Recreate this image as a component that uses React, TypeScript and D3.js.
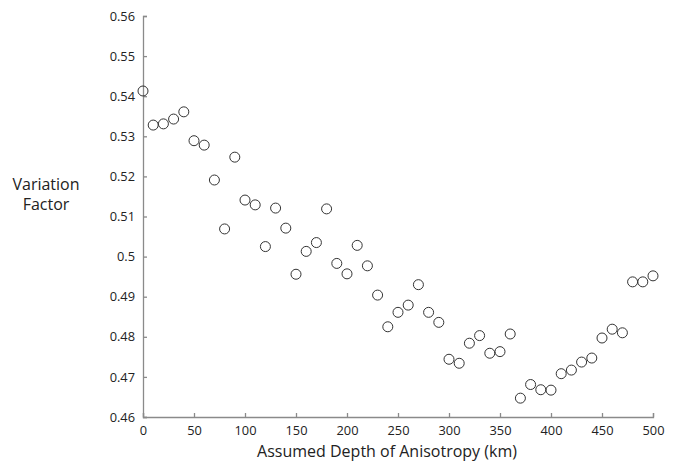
import React, { useEffect, useRef } from 'react';
import * as d3 from 'd3';

// Assumed depth (km) and variation factor
const depths = [
  0, 10, 20, 30, 40, 50, 60, 70, 80, 90, 100, 110, 120, 130, 140, 150, 160, 170, 180, 190,
  200, 210, 220, 230, 240, 250, 260, 270, 280, 290, 300, 310, 320, 330, 340, 350, 360, 370,
  380, 390, 400, 410, 420, 430, 440, 450, 460, 470, 480, 490, 500,
];
const factors = [
  0.5413, 0.5328, 0.5331, 0.5343, 0.5361, 0.5289, 0.5278, 0.5191, 0.5069, 0.5248,
  0.5141, 0.5129, 0.5025, 0.5121, 0.5071, 0.4956, 0.5013, 0.5035, 0.5119, 0.4983,
  0.4957, 0.5028, 0.4977, 0.4904, 0.4825, 0.4861, 0.4879, 0.493, 0.4861, 0.4836,
  0.4744, 0.4734, 0.4784, 0.4803, 0.4759, 0.4763, 0.4807, 0.4647, 0.4681, 0.4668,
  0.4667, 0.4708, 0.4717, 0.4737, 0.4747, 0.4797, 0.4819, 0.481, 0.4937, 0.4937, 0.4952,
];
const xTicks = [0, 50, 100, 150, 200, 250, 300, 350, 400, 450, 500];
const yTicks = [0.46, 0.47, 0.48, 0.49, 0.5, 0.51, 0.52, 0.53, 0.54, 0.55, 0.56];

const W = 676;
const H = 462;
const FONT = '"Open Sans", sans-serif';

export default function App() {
  const svgRef = useRef<SVGSVGElement>(null);

  useEffect(() => {
    const svg = d3.select(svgRef.current);
    svg.selectAll('*').remove();

    const x = d3.scaleLinear().domain([0, 500]).range([143, 653]);
    const y = d3.scaleLinear().domain([0.46, 0.56]).range([417, 16]);

    // x axis, ticks pointing inward
    const gx = svg.append('g').attr('transform', `translate(0, ${y(0.46)})`);
    gx.call(
      d3.axisBottom(x).tickValues(xTicks).tickSize(-4).tickPadding(9).tickFormat(d3.format('d')) as any
    );
    // y axis
    const gy = svg.append('g').attr('transform', `translate(${x(0)}, 0)`);
    gy.call(
      d3.axisLeft(y).tickValues(yTicks).tickSize(-4).tickPadding(8).tickFormat((d) => String(+d)) as any
    );

    [gx, gy].forEach((g) => {
      g.select('.domain').attr('stroke', '#8a8a8a').attr('stroke-width', 1.3);
      g.selectAll('.tick line').attr('stroke', '#8a8a8a').attr('stroke-width', 1.3);
      g.selectAll('.tick text')
        .attr('fill', '#222')
        .style('font-family', FONT)
        .style('font-size', '12.8px');
    });

    // points
    svg
      .append('g')
      .selectAll('circle')
      .data(depths.map((d, i) => [d, factors[i]]))
      .enter()
      .append('circle')
      .attr('cx', (d) => x(d[0]))
      .attr('cy', (d) => y(d[1]))
      .attr('r', 5)
      .attr('fill', 'none')
      .attr('stroke', '#333')
      .attr('stroke-width', 1);

    // axis titles
    svg
      .append('text')
      .attr('x', 387)
      .attr('y', 457)
      .attr('text-anchor', 'middle')
      .style('font-family', FONT)
      .style('font-size', '16px')
      .attr('fill', '#222')
      .text('Assumed Depth of Anisotropy (km)');

    const yt = svg
      .append('text')
      .attr('text-anchor', 'middle')
      .style('font-family', FONT)
      .style('font-size', '16px')
      .attr('fill', '#222');
    yt.append('tspan').attr('x', 46).attr('y', 190).text('Variation');
    yt.append('tspan').attr('x', 46).attr('y', 210).text('Factor');
  }, []);

  return (
    <svg
      ref={svgRef}
      width={W}
      height={H}
      style={{ position: 'absolute', left: 0, top: 0, background: '#fff' }}
    ></svg>
  );
}
